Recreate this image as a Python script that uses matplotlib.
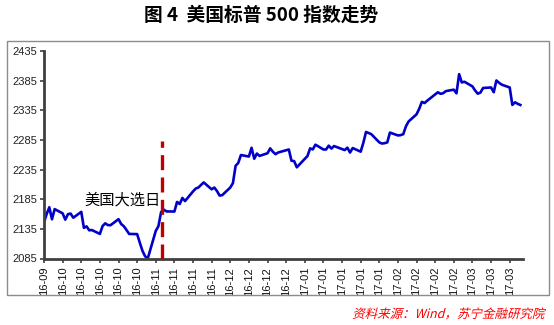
import matplotlib
matplotlib.use("Agg")
import matplotlib.pyplot as plt
import pandas as pd
from matplotlib.patches import Rectangle, PathPatch
from matplotlib.textpath import TextPath
from matplotlib.font_manager import FontProperties
from matplotlib.transforms import Affine2D

# S&P 500 daily close (trading days only)
trade_dates = [
    "2016-09-26", "2016-09-27", "2016-09-28", "2016-09-29", "2016-09-30",
    "2016-10-03", "2016-10-04", "2016-10-05", "2016-10-06", "2016-10-07",
    "2016-10-10", "2016-10-11", "2016-10-12", "2016-10-13", "2016-10-14",
    "2016-10-17", "2016-10-18", "2016-10-19", "2016-10-20", "2016-10-21",
    "2016-10-24", "2016-10-25", "2016-10-26", "2016-10-27", "2016-10-28",
    "2016-10-31", "2016-11-01", "2016-11-02", "2016-11-03", "2016-11-04",
    "2016-11-07", "2016-11-08", "2016-11-09", "2016-11-10", "2016-11-11",
    "2016-11-14", "2016-11-15", "2016-11-16", "2016-11-17", "2016-11-18",
    "2016-11-21", "2016-11-22", "2016-11-23", "2016-11-25",
    "2016-11-28", "2016-11-29", "2016-11-30", "2016-12-01", "2016-12-02",
    "2016-12-05", "2016-12-06", "2016-12-07", "2016-12-08", "2016-12-09",
    "2016-12-12", "2016-12-13", "2016-12-14", "2016-12-15", "2016-12-16",
    "2016-12-19", "2016-12-20", "2016-12-21", "2016-12-22", "2016-12-23",
    "2016-12-27", "2016-12-28", "2016-12-29", "2016-12-30",
    "2017-01-03", "2017-01-04", "2017-01-05", "2017-01-06",
    "2017-01-09", "2017-01-10", "2017-01-11", "2017-01-12", "2017-01-13",
    "2017-01-17", "2017-01-18", "2017-01-19", "2017-01-20",
    "2017-01-23", "2017-01-24", "2017-01-25", "2017-01-26", "2017-01-27",
    "2017-01-30", "2017-01-31", "2017-02-01", "2017-02-02", "2017-02-03",
    "2017-02-06", "2017-02-07", "2017-02-08", "2017-02-09", "2017-02-10",
    "2017-02-13", "2017-02-14", "2017-02-15", "2017-02-16", "2017-02-17",
    "2017-02-21", "2017-02-22", "2017-02-23", "2017-02-24",
    "2017-02-27", "2017-02-28", "2017-03-01", "2017-03-02", "2017-03-03",
    "2017-03-06", "2017-03-07", "2017-03-08", "2017-03-09", "2017-03-10",
    "2017-03-13", "2017-03-14", "2017-03-15", "2017-03-16", "2017-03-17",
    "2017-03-20", "2017-03-21", "2017-03-22", "2017-03-23", "2017-03-24",
]
spx_close = [
    2146.10, 2159.93, 2171.37, 2151.13, 2168.27,
    2161.20, 2150.49, 2159.73, 2160.77, 2153.74,
    2163.66, 2136.73, 2139.18, 2132.55, 2132.98,
    2126.50, 2139.60, 2144.29, 2141.34, 2141.16,
    2151.33, 2143.16, 2139.43, 2133.04, 2126.41,
    2126.15, 2111.72, 2097.94, 2088.66, 2085.18,
    2131.52, 2139.56, 2163.26, 2167.48, 2164.45,
    2164.20, 2180.39, 2176.94, 2187.12, 2181.90,
    2198.18, 2202.94, 2204.72, 2213.35,
    2201.72, 2204.66, 2198.81, 2191.08, 2191.95,
    2204.71, 2212.23, 2241.35, 2246.19, 2259.53,
    2256.96, 2271.72, 2253.28, 2262.03, 2258.07,
    2262.53, 2270.76, 2265.18, 2260.96, 2263.79,
    2268.88, 2249.92, 2249.26, 2238.83,
    2257.83, 2270.75, 2269.00, 2276.98,
    2268.90, 2268.90, 2275.32, 2270.44, 2274.64,
    2267.89, 2271.89, 2263.69, 2271.31,
    2265.20, 2280.07, 2298.37, 2296.68, 2294.69,
    2280.90, 2278.87, 2279.55, 2280.85, 2297.42,
    2292.56, 2293.08, 2294.67, 2307.87, 2316.10,
    2328.25, 2337.58, 2349.25, 2347.22, 2351.16,
    2365.38, 2362.82, 2363.81, 2367.34,
    2369.75, 2363.64, 2395.96, 2381.92, 2383.12,
    2375.31, 2368.39, 2362.98, 2364.87, 2372.60,
    2373.47, 2365.45, 2385.26, 2381.38, 2378.25,
    2373.47, 2344.02, 2348.45, 2345.96, 2343.98,
]
y_ticks = [2085, 2135, 2185, 2235, 2285, 2335, 2385, 2435]
election_day = "2016-11-09"
election_top = 2283
title = "图 4  美国标普 500 指数走势"
note = "美国大选日"
source = "资料来源：Wind，苏宁金融研究院"

cjk = ["Noto Sans CJK SC", "DejaVu Sans"]
num_font = "Liberation Sans"

dates = pd.to_datetime(trade_dates)
week_ticks = pd.date_range("2016-09-26", "2017-03-20", freq="W-MON")

fig = plt.figure(figsize=(5.54, 3.25), dpi=100)
fig.patch.set_facecolor("white")

# outer grey frame of the chart
fig.patches.append(Rectangle((6.5 / 554, 1 - 294.5 / 325), 542 / 554, 254 / 325,
                             transform=fig.transFigure, fill=False,
                             edgecolor="#8c8c8c", linewidth=1.0))

ax = fig.add_axes([44 / 554, 1 - 258.5 / 325, 479 / 554, 207.5 / 325])
ax.plot(dates, spx_close, color="#0000c8", linewidth=1.9, solid_joinstyle="round")
ax.vlines(pd.Timestamp(election_day) + pd.Timedelta(hours=10), y_ticks[0], election_top,
          colors="#c00000", linestyles=(0, (4.5, 2.2)), linewidth=2.4, zorder=3)

ax.set_ylim(y_ticks[0], y_ticks[-1])
ax.set_xlim(pd.Timestamp("2016-09-26"), pd.Timestamp("2016-09-26") + pd.Timedelta(days=180))
ax.set_yticks(y_ticks)
ax.set_yticklabels([str(v) for v in y_ticks], fontfamily=num_font, fontsize=8, color="#222222")
ax.set_xticks(week_ticks)
ax.set_xticklabels([d.strftime("%y-%m") for d in week_ticks], rotation=90,
                   fontfamily=num_font, fontsize=8, color="#111111")
ax.tick_params(axis="y", length=3, width=1.2, color="#404040", pad=2)
ax.tick_params(axis="x", length=3, width=1.2, color="#404040", pad=3)

for side in ["top", "right"]:
    ax.spines[side].set_visible(False)
for side in ["left", "bottom"]:
    ax.spines[side].set_color("#404040")
    ax.spines[side].set_linewidth(2.0)

ax.text(pd.Timestamp("2016-11-08") + pd.Timedelta(hours=22), 2183, note,
        ha="right", va="center", fontsize=11, family=cjk, color="black")

fig.text(261 / 554, 1 - 15 / 325, title, ha="center", va="center",
         fontsize=13.5, fontweight="bold", family=cjk, color="black")

# source line, slanted like the original italic
src_path = TextPath((0, 0), source, size=9, prop=FontProperties(family="Noto Sans CJK SC"))
ext = src_path.get_extents()
px = fig.dpi / 72.0
right_px, base_px = 544, 325 - 318
slant = (Affine2D().translate(-ext.x1, 0).skew_deg(14, 0).scale(px)
         .translate(right_px, base_px))
fig.patches.append(PathPatch(src_path, transform=slant, facecolor="#ff0000",
                             edgecolor="none"))

fig.savefig("out.png", dpi=100)
